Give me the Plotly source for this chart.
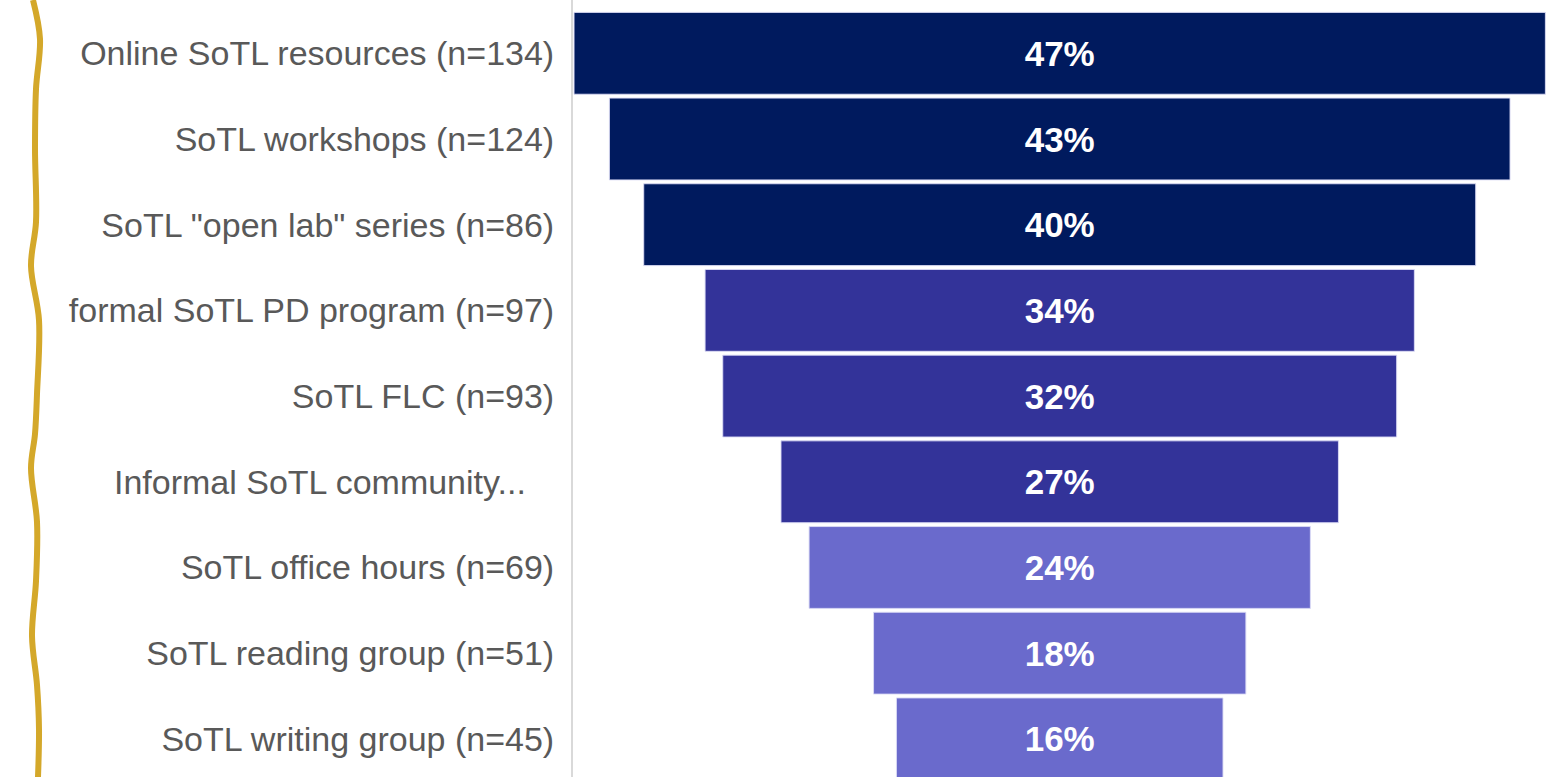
import plotly.graph_objects as go

# ---- data ----
categories = [
    "Online SoTL resources (n=134)",
    "SoTL workshops (n=124)",
    "SoTL \"open lab\" series (n=86)",
    "formal SoTL PD program (n=97)",
    "SoTL FLC (n=93)",
    "Informal SoTL community...\u00a0\u00a0\u00a0",
    "SoTL office hours (n=69)",
    "SoTL reading group (n=51)",
    "SoTL writing group (n=45)",
]
values = [46.7, 43.3, 40.0, 34.1, 32.4, 26.8, 24.1, 17.9, 15.7]
tiers = [0, 0, 0, 1, 1, 1, 2, 2, 2]
tier_colors = ["#001A5E", "#333399", "#6A6ACC"]

# decorative gold wavy brace on the left (figure pixel coords)
brace_x = [33, 40, 36, 35, 36, 31, 39, 37, 35, 31, 37, 36, 32, 37, 39, 38]
brace_y = [0, 39, 89, 148, 222, 266, 320, 394, 434, 468, 522, 581, 636, 685, 729, 777]

W, H = 1556, 777
positions = list(range(len(categories)))

fig = go.Figure()
fig.add_trace(go.Bar(
    y=positions,
    x=values,
    base=[-v / 2 for v in values],
    orientation="h",
    marker=dict(color=[tier_colors[t] for t in tiers],
                line=dict(color="rgba(220,220,245,0.9)", width=1)),
    texttemplate="%{x:.0f}%",
    textposition="inside",
    insidetextanchor="middle",
    textangle=0,
    textfont=dict(family="Liberation Sans, Arial", size=35, color="white", weight="bold"),
    hoverinfo="skip",
    xaxis="x", yaxis="y",
    width=0.955,
))

fig.add_trace(go.Scatter(
    x=brace_x, y=brace_y, mode="lines",
    line=dict(color="#D4A82A", width=6, shape="spline", smoothing=1.0),
    xaxis="x2", yaxis="y2", hoverinfo="skip", showlegend=False,
))

x0 = 573 / W
fig.update_layout(
    width=W, height=H,
    margin=dict(l=0, r=0, t=0, b=0),
    paper_bgcolor="white", plot_bgcolor="rgba(0,0,0,0)",
    showlegend=False,
    bargap=0.045,
    xaxis=dict(domain=[x0, 1], range=[-23.40, 23.86], visible=False, fixedrange=True),
    yaxis=dict(
        domain=[0, 1], anchor="x",
        range=[8.445, -0.622],
        tickvals=positions, ticktext=categories,
        showline=True, linecolor="#D9D9D9", linewidth=2,
        ticks="outside", ticklen=10, tickcolor="rgba(0,0,0,0)",
        showgrid=False, zeroline=False,
        tickfont=dict(family="Liberation Sans, Arial", size=34, color="#595959"),
    ),
    xaxis2=dict(domain=[0, 1], range=[0, W], visible=False, anchor="y2"),
    yaxis2=dict(domain=[0, 1], range=[H, 0], visible=False, anchor="x2"),
)

fig.write_html(
    "out.html",
    config={"displayModeBar": False},
    post_script="document.body.style.margin='0';document.body.style.overflow='hidden';",
)
